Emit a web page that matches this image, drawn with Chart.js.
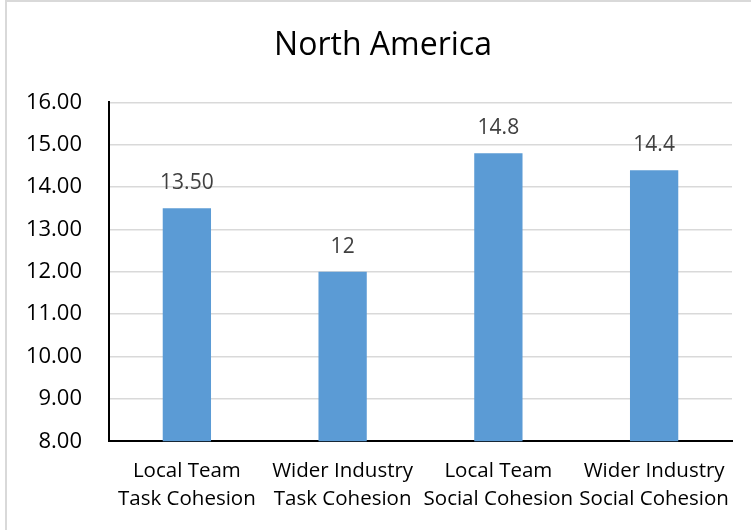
<!DOCTYPE html>
<html>
<head>
<meta charset="utf-8">
<script src="https://cdn.jsdelivr.net/npm/chart.js@4"></script>
<style>
  body { margin: 0; background: #fff; }
  #moldura {
    position: absolute; left: 5px; top: 0px; width: 760px; height: 540px;
    border-left: 2px solid #d9d9d9; border-top: 2px solid #d9d9d9;
  }
  #caixa { position: absolute; left: 0; top: 0; width: 751px; height: 530px; }
</style>
</head>
<body>
<div id="moldura"></div>
<div id="caixa"><canvas id="grafico"></canvas></div>
<script>
//categorias (duas linhas cada)
var categorias = [
    ['Local Team', 'Task Cohesion'],
    ['Wider Industry', 'Task Cohesion'],
    ['Local Team', 'Social Cohesion'],
    ['Wider Industry', 'Social Cohesion']
];

//valores das barras
var valores = [13.5, 12, 14.8, 14.4];

//rotulos escritos acima das barras
var rotulos = ['13.50', '12', '14.8', '14.4'];

//marcas do eixo y
var ticksY = [8, 9, 10, 11, 12, 13, 14, 15, 16];

var fonte = '"Open Sans", sans-serif';

//plugin que escreve o valor em cima de cada barra
var rotulosPlugin = {
    id: 'rotulos',
    afterDatasetsDraw: function(chart) {
        var ctx = chart.ctx;
        var meta = chart.getDatasetMeta(0);
        ctx.save();
        ctx.font = '21px ' + fonte;
        ctx.fillStyle = '#404040';
        ctx.textAlign = 'center';
        ctx.textBaseline = 'middle';
        meta.data.forEach(function(barra, i) {
            ctx.fillText(rotulos[i], barra.x, barra.y - 25);
        });
        ctx.restore();
    }
};

//desloca o titulo um pouco para a direita
var tituloPlugin = {
    id: 'tituloDesloc',
    afterLayout: function(chart) {
        chart.titleBlock.left = 34;
    }
};

var data = {
    labels: categorias,
    datasets: [{
        data: valores,
        backgroundColor: '#5b9bd5',
        borderWidth: 0,
        barPercentage: 0.31,
        categoryPercentage: 1
    }]
};

var options = {
    responsive: true,
    maintainAspectRatio: false,
    animation: false,
    layout: { padding: { left: 0, right: 19, top: 0, bottom: 1 } },
    plugins: {
        legend: { display: false },
        tooltip: { enabled: false },
        title: {
            display: true,
            text: 'North America',
            color: '#000',
            font: { family: fonte, size: 32, weight: 'normal', lineHeight: 1.2 },
            padding: { top: 27, bottom: 37 }
        }
    },
    scales: {
        x: {
            grid: { display: false, drawTicks: false },
            border: { color: '#000', width: 2 },
            ticks: {
                color: '#000',
                padding: 16,
                maxRotation: 0,
                autoSkip: false,
                font: { family: fonte, size: 20.5, lineHeight: 1.36 }
            }
        },
        y: {
            min: 8,
            max: 16,
            afterBuildTicks: function(axis) {
                axis.ticks = ticksY.map(function(v) { return { value: v }; });
            },
            afterFit: function(axis) { axis.width = 109; },
            grid: { color: '#d9d9d9', lineWidth: 1.5, drawTicks: false },
            border: { color: '#000', width: 2 },
            ticks: {
                color: '#000',
                padding: 27,
                font: { family: fonte, size: 22 },
                callback: function(v) { return v.toFixed(2); }
            }
        }
    }
};

var ctx = document.querySelector('#grafico');
var barChart = new Chart(ctx, {
    type: 'bar',
    data: data,
    options: options,
    plugins: [rotulosPlugin, tituloPlugin]
});
</script>
</body>
</html>
